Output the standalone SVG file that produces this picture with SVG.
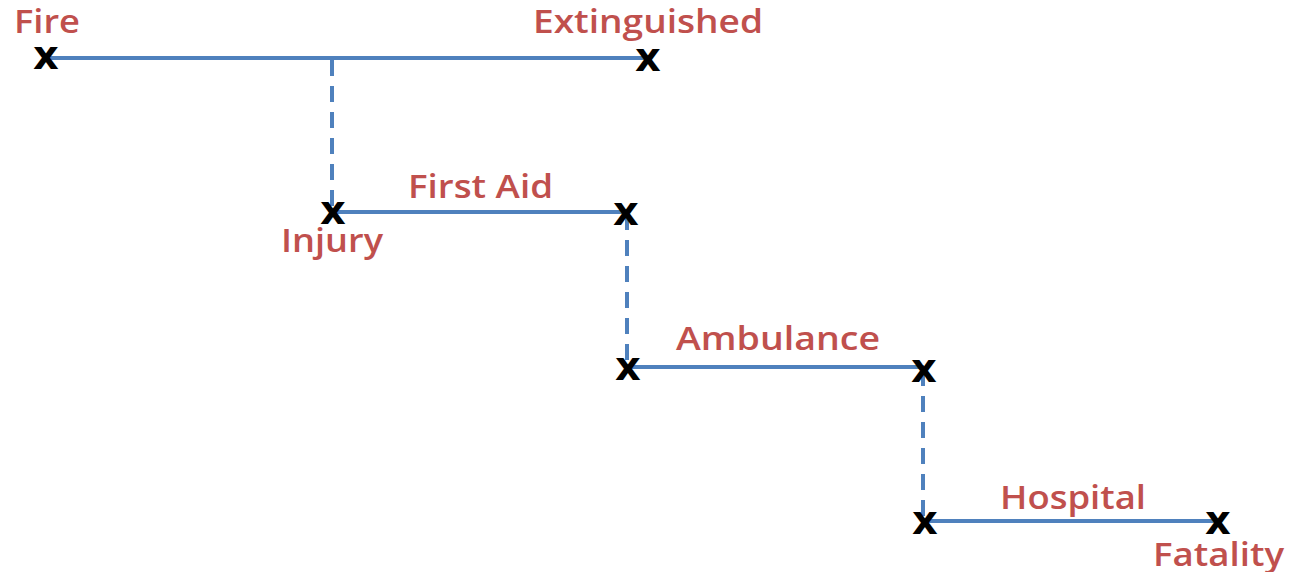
<svg xmlns="http://www.w3.org/2000/svg" width="1291" height="572" viewBox="0 0 1291 572">
<style>
.lbl{font-family:"Open Sans","DejaVu Sans",sans-serif;font-size:33px;font-weight:600;fill:#C0504D}
.mk{font-family:"DejaVu Sans",sans-serif;font-size:40px;font-weight:bold;fill:#000;text-anchor:middle}
.ln{stroke:#4F81BD;stroke-width:4;fill:none}
.dash{stroke:#4F81BD;stroke-width:4;fill:none;stroke-dasharray:16,10}
</style>
<rect width="1291" height="572" fill="#fff"/>
<g id="connectors">
<line class="ln" x1="47" y1="58" x2="647" y2="58"/>
<line class="dash" x1="332" y1="60" x2="332" y2="212"/>
<line class="ln" x1="334" y1="212" x2="626" y2="212"/>
<line class="dash" x1="627" y1="214" x2="627" y2="368"/>
<line class="ln" x1="629" y1="367" x2="924" y2="367"/>
<line class="dash" x1="923" y1="370" x2="923" y2="521"/>
<line class="ln" x1="926" y1="521" x2="1217" y2="521"/>
</g>
<g id="fire"><text class="mk" x="46" y="69">x</text><text class="lbl" x="14" y="33" textLength="66" lengthAdjust="spacingAndGlyphs">Fire</text></g>
<g id="extinguished"><text class="mk" x="648" y="71">x</text><text class="lbl" x="533" y="33" textLength="230" lengthAdjust="spacingAndGlyphs">Extinguished</text></g>
<g id="injury"><text class="mk" x="333" y="224">x</text><text class="lbl" x="281" y="252" textLength="102" lengthAdjust="spacingAndGlyphs">Injury</text></g>
<g id="firstaid"><text class="mk" x="626" y="225">x</text><text class="lbl" x="408" y="198" textLength="145" lengthAdjust="spacingAndGlyphs">First Aid</text></g>
<g id="ambulance-start"><text class="mk" x="628" y="380">x</text></g>
<g id="ambulance"><text class="mk" x="924" y="382">x</text><text class="lbl" x="676" y="350" textLength="204" lengthAdjust="spacingAndGlyphs">Ambulance</text></g>
<g id="hospital-start"><text class="mk" x="925" y="534">x</text></g>
<g id="hospital"><text class="lbl" x="1000" y="509" textLength="146" lengthAdjust="spacingAndGlyphs">Hospital</text></g>
<g id="fatality"><text class="mk" x="1218" y="534">x</text><text class="lbl" x="1153" y="566" textLength="131" lengthAdjust="spacingAndGlyphs">Fatality</text></g>
</svg>
